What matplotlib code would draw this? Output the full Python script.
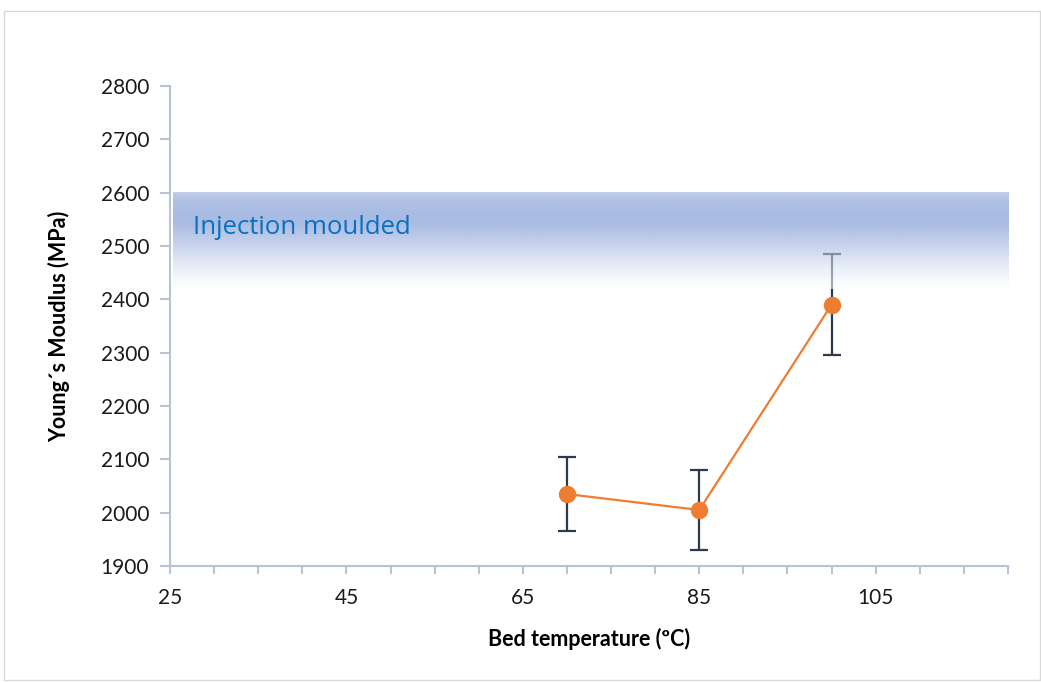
import numpy as np
import matplotlib
matplotlib.use("Agg")
import matplotlib.pyplot as plt
from matplotlib.patches import Rectangle
from matplotlib.colors import to_rgb

# Data
bed_temp = [70, 85, 100]
modulus = [2035, 2005, 2390]
modulus_err = [70, 75, 95]

x_ticks = [25, 45, 65, 85, 105]
y_ticks = [1900, 2000, 2100, 2200, 2300, 2400, 2500, 2600, 2700, 2800]

band_low, band_high = 2420, 2600
band_label = "Injection moulded"

plt.rcParams['font.family'] = ['Lato', 'DejaVu Sans']

fig = plt.figure(figsize=(10.41, 6.83), dpi=100)
ax = fig.add_axes([0.1633, 0.1713, 0.8050, 0.7028])

# Light chart-area border
fig.patches.append(Rectangle((0.004, 0.004), 0.995, 0.98, transform=fig.transFigure,
                             fill=False, edgecolor='#d9d9d9', linewidth=1.0))

# Error bars and line
ax.errorbar(bed_temp, modulus, yerr=modulus_err, fmt='none', ecolor='#2e3a4b',
            elinewidth=1.6, capsize=6.5, capthick=1.6, zorder=2)
ax.plot(bed_temp, modulus, color='#ed7d31', linewidth=1.6, marker='o',
        markersize=11.5, markerfacecolor='#ed7d31', markeredgecolor='#ed7d31', zorder=3)

# Gradient band for the injection-moulded reference range
ys = np.linspace(band_high, band_low, 200)
prof_y = [2600, 2585, 2560, 2540, 2500, 2460, 2435, 2420]
prof_t = [0.72, 0.9, 1.0, 0.97, 0.62, 0.25, 0.08, 0.0]
t = np.interp(ys, prof_y[::-1], prof_t[::-1])
alpha = 0.6
vis = np.array(to_rgb('#a8bbe2'))
img = np.zeros((len(ys), 1, 4))
for i, ti in enumerate(t):
    target = 1 - ti * (1 - vis)
    col = (target - (1 - alpha)) / alpha
    img[i, 0, :3] = np.clip(col, 0, 1)
    img[i, 0, 3] = alpha
ax.imshow(img, extent=[25.3, 120, band_low, band_high], aspect='auto',
          origin='upper', zorder=4, interpolation='bilinear')
ax.text(27.6, 2535, band_label, color='#0a70c0', fontsize=18.5, va='center',
        ha='left', zorder=5, family=['Open Sans', 'DejaVu Sans'])

ax.set_xlim(25, 120)
ax.set_ylim(1900, 2800)
ax.set_xticks(x_ticks)
ax.set_xticks(np.arange(25, 121, 5), minor=True)
ax.set_yticks(y_ticks)

spine_col = '#b9c3d8'
for s in ['top', 'right']:
    ax.spines[s].set_visible(False)
for s in ['left', 'bottom']:
    ax.spines[s].set_color(spine_col)
    ax.spines[s].set_linewidth(1.5)
    ax.spines[s].set_zorder(6)

ax.tick_params(axis='both', which='both', color=spine_col, width=1.5, direction='out')
ax.tick_params(axis='x', which='major', length=6, pad=10, labelsize=15, labelcolor='#1a1a1a')
ax.tick_params(axis='x', which='minor', length=6)
ax.tick_params(axis='y', which='major', length=7, pad=8, labelsize=15, labelcolor='#1a1a1a')

ax.set_xlabel('Bed temperature (ºC)', fontsize=15.5, fontweight='bold', labelpad=14)
ax.set_ylabel('Young\u00b4s Moudlus (MPa)', fontsize=15.5, fontweight='bold', labelpad=22)

fig.savefig('out.png', dpi=100)
